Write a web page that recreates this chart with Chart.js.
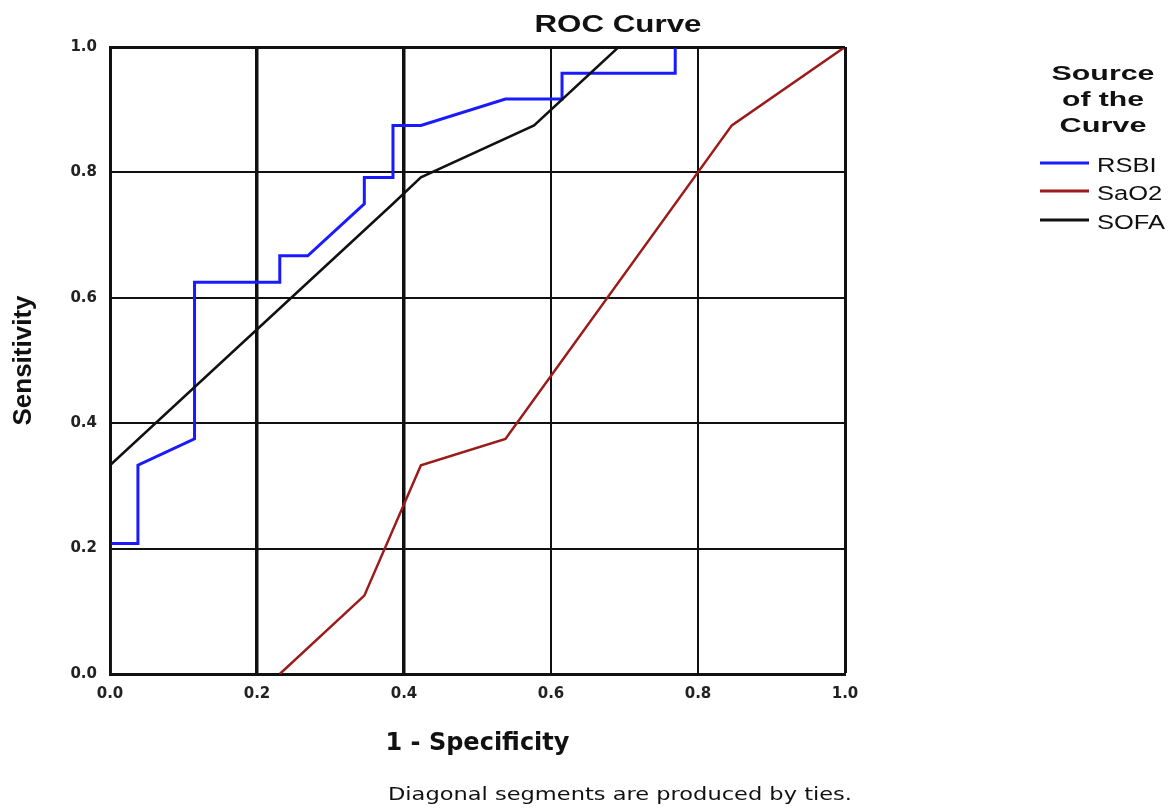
<!DOCTYPE html>
<html>
<head>
<meta charset="utf-8">
<script src="https://cdn.jsdelivr.net/npm/chart.js@4/dist/chart.umd.min.js"></script>
<style>
  html, body { margin: 0; padding: 0; background: #ffffff; }
  #c { display: block; }
</style>
</head>
<body>
<canvas id="c" width="1174" height="812"></canvas>
<script>
// ---- Data ----
const chartTitle = 'ROC Curve';
const xAxisTitle = '1 - Specificity';
const yAxisTitle = 'Sensitivity';
const footnote = 'Diagonal segments are produced by ties.';
const legendTitleLines = ['Source', 'of the', 'Curve'];
const seriesNames = ['RSBI', 'SaO2', 'SOFA'];
const tickLabels = ['0.0', '0.2', '0.4', '0.6', '0.8', '1.0'];

// RSBI: 1 - specificity / sensitivity (run along the top edge is hidden by the frame)
const rsbiX = [0, 0, 0.038, 0.038, 0.115, 0.115, 0.231, 0.231, 0.269, 0.346, 0.346, 0.385, 0.385, 0.423, 0.538, 0.615, 0.615, 0.769, 0.769];
const rsbiY = [0, 0.208, 0.208, 0.333, 0.375, 0.625, 0.625, 0.667, 0.667, 0.750, 0.792, 0.792, 0.875, 0.875, 0.917, 0.917, 0.958, 0.958, 1.0];

// SaO2 (the run along the x axis from 0 to 0.231 is hidden under the axis)
const sao2X = [0.231, 0.346, 0.423, 0.538, 0.846, 1.0];
const sao2Y = [0, 0.125, 0.333, 0.375, 0.875, 1.0];

// SOFA
const sofaX = [0, 0, 0.385, 0.423, 0.577, 0.692, 1.0];
const sofaY = [0, 0.333, 0.750, 0.792, 0.875, 1.0, 1.0];

const seriesColors = ['#1a1aff', '#9b1a1a', '#111111'];

function pairs(xs, ys) { return xs.map((x, i) => ({ x: x, y: ys[i] })); }

// ---- Text helper: draws text stretched to a target width ----
function drawFit(ctx, text, x, baseline, font, width, align) {
  ctx.save();
  ctx.font = font;
  const w = ctx.measureText(text).width;
  const sx = width ? width / w : 1;
  ctx.translate(x, baseline);
  ctx.scale(sx, 1);
  ctx.textAlign = align || 'center';
  ctx.textBaseline = 'alphabetic';
  ctx.fillStyle = '#111111';
  ctx.fillText(text, 0, 0);
  ctx.restore();
}

const decorPlugin = {
  id: 'decor',
  afterDraw(chart) {
    const ctx = chart.ctx;
    // Chart title
    drawFit(ctx, chartTitle, 618, 32, 'bold 24px "Liberation Sans", Arial, sans-serif', 167, 'center');
    // Footnote
    drawFit(ctx, footnote, 620, 800, '17px "DejaVu Sans", sans-serif', 464, 'center');
    // Legend title
    const titleBase = [80, 105.5, 131.5];
    const titleW = [103, 82, 87];
    legendTitleLines.forEach((t, i) => {
      drawFit(ctx, t, 1103, titleBase[i], 'bold 21px "Liberation Sans", Arial, sans-serif', titleW[i], 'center');
    });
    // Legend items
    const itemY = [163, 191, 220];
    ctx.save();
    ctx.font = '20px "Liberation Sans", Arial, sans-serif';
    const sx = 68 / ctx.measureText('SOFA').width;
    ctx.restore();
    chart.data.datasets.forEach((ds, i) => {
      const y = itemY[i];
      ctx.save();
      ctx.strokeStyle = ds.borderColor;
      ctx.lineWidth = 3;
      ctx.beginPath();
      ctx.moveTo(1040, y);
      ctx.lineTo(1089, y);
      ctx.stroke();
      ctx.restore();
      ctx.save();
      ctx.font = '20px "Liberation Sans", Arial, sans-serif';
      const w = ctx.measureText(ds.label).width * sx;
      ctx.restore();
      drawFit(ctx, ds.label, 1097, y + 8.5, '20px "Liberation Sans", Arial, sans-serif', w, 'left');
    });
  }
};

const gridColor = '#111111';

new Chart(document.getElementById('c'), {
  type: 'line',
  data: {
    datasets: [
      { label: seriesNames[0], data: pairs(rsbiX, rsbiY), borderColor: seriesColors[0], borderWidth: 3, order: 2 },
      { label: seriesNames[1], data: pairs(sao2X, sao2Y), borderColor: seriesColors[1], borderWidth: 2.5, order: 1 },
      { label: seriesNames[2], data: pairs(sofaX, sofaY), borderColor: seriesColors[2], borderWidth: 2.5, order: 0 }
    ]
  },
  options: {
    responsive: false,
    animation: false,
    events: [],
    elements: { point: { radius: 0 }, line: { tension: 0, fill: false, borderCapStyle: 'butt', borderJoinStyle: 'miter' } },
    layout: { padding: { left: 0, right: 329, top: 47, bottom: 38 } },
    plugins: {
      legend: { display: false },
      title: { display: false },
      tooltip: { enabled: false }
    },
    scales: {
      x: {
        type: 'linear',
        min: 0, max: 1, z: 1,
        afterFit: (s) => { s.height = 100; },
        ticks: {
          stepSize: 0.2,
          padding: 11,
          color: '#222222',
          font: { family: '"DejaVu Sans", sans-serif', size: 15, weight: 'bold' },
          callback: (v) => tickLabels[Math.round(v / 0.2)]
        },
        grid: {
          color: gridColor,
          drawTicks: false,
          lineWidth: (c) => {
            const v = c.tick ? Math.round(c.tick.value * 10) / 10 : 0;
            if (v === 0.2 || v === 0.4) return 3.5;
            if (v === 1) return 3;
            return 2;
          }
        },
        border: { display: true, width: 3, color: gridColor },
        title: {
          display: true,
          text: xAxisTitle,
          color: '#111111',
          font: { family: '"DejaVu Sans", sans-serif', size: 24, weight: 'bold' },
          padding: { top: 0, bottom: 16 }
        }
      },
      y: {
        type: 'linear',
        min: 0, max: 1, z: 1,
        afterFit: (s) => { s.width = 110; },
        ticks: {
          stepSize: 0.2,
          padding: 13,
          color: '#222222',
          font: { family: '"DejaVu Sans", sans-serif', size: 15, weight: 'bold' },
          callback: (v) => tickLabels[Math.round(v / 0.2)]
        },
        grid: {
          color: gridColor,
          drawTicks: false,
          lineWidth: (c) => {
            const v = c.tick ? Math.round(c.tick.value * 10) / 10 : 0;
            if (v === 1) return 3;
            return 2;
          }
        },
        border: { display: true, width: 3, color: gridColor },
        title: {
          display: true,
          text: yAxisTitle,
          color: '#111111',
          font: { family: '"Liberation Sans", Arial, sans-serif', size: 26, weight: 'bold' },
          padding: { top: 8, bottom: 0 }
        }
      }
    }
  },
  plugins: [decorPlugin]
});
</script>
</body>
</html>
